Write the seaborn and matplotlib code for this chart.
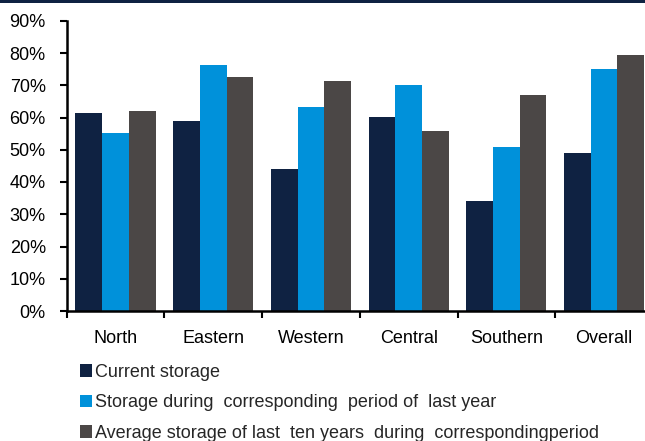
import matplotlib
matplotlib.use("Agg")
import matplotlib.pyplot as plt
import seaborn as sns
import pandas as pd
from matplotlib.patches import Patch, Rectangle
from matplotlib.ticker import FixedLocator

sns.set_style("white")
plt.rcParams['font.family'] = ['Liberation Sans', 'DejaVu Sans']

regions = ["North", "Eastern", "Western", "Central", "Southern", "Overall"]
current_storage = [61.3, 58.9, 43.9, 60.2, 34.0, 48.9]
last_year = [55.1, 76.3, 63.3, 70.1, 50.9, 75.0]
ten_year_avg = [62.0, 72.5, 71.3, 55.8, 67.0, 79.4]
series_names = [
    "Current storage",
    "Storage during  corresponding  period of  last year",
    "Average storage of last  ten years  during  correspondingperiod",
]
colors = ["#0F2242", "#0091DA", "#4B4746"]
y_ticks = [0, 10, 20, 30, 40, 50, 60, 70, 80, 90]
y_tick_labels = [f"{v}%" for v in y_ticks]

rows = []
for name, vals in zip(series_names, [current_storage, last_year, ten_year_avg]):
    for r, v in zip(regions, vals):
        rows.append({"region": r, "series": name, "value": v})
df = pd.DataFrame(rows)

FS = 13.0
W, H = 645, 441
fig = plt.figure(figsize=(W / 100, H / 100), dpi=100)
left = 66.7 / W
right_px = 66.7 + 6 * 97.7
bottom = (H - 311) / H
top_px = 311 - 9 * 32.25
ax = fig.add_axes([left, bottom, (right_px - 66.7) / W, (311 - top_px) / H])

sns.barplot(data=df, x="region", y="value", hue="series", order=regions,
            hue_order=series_names, palette=colors, width=0.82, saturation=1,
            ax=ax, legend=False, edgecolor="none", linewidth=0)

ax.set_xlim(-0.5, 5.5)
ax.set_ylim(0, 90)
ax.set_yticks(y_ticks)
ax.set_yticklabels(y_tick_labels)
ax.set_xlabel("")
ax.set_ylabel("")
for s in ["top", "right"]:
    ax.spines[s].set_visible(False)
for s in ["left", "bottom"]:
    ax.spines[s].set_linewidth(1.8)
    ax.spines[s].set_color("black")

ax.tick_params(axis="y", which="major", direction="out", length=5, width=1.5,
               pad=10, labelsize=FS, colors="black", left=True)
ax.tick_params(axis="x", which="major", length=0, pad=14, labelsize=FS,
               colors="black")
ax.xaxis.set_minor_locator(FixedLocator([i - 0.5 for i in range(7)]))
ax.tick_params(axis="x", which="minor", direction="out", length=5, width=1.5,
               bottom=True, colors="black")

handles = [Patch(facecolor=c, edgecolor="none") for c in colors]
fig.legend(handles, series_names, loc="upper left",
           bbox_to_anchor=(80 / W, 1 - 364 / H), frameon=False,
           fontsize=FS, handlelength=0.68, handleheight=0.68,
           handletextpad=0.15, labelspacing=0.74, borderpad=0,
           borderaxespad=0)

fig.add_artist(Rectangle((0, 1 - 2.5 / H), 1, 2.5 / H, transform=fig.transFigure,
                         facecolor="#0F2242", edgecolor="none"))

fig.savefig("out.png", dpi=100)
